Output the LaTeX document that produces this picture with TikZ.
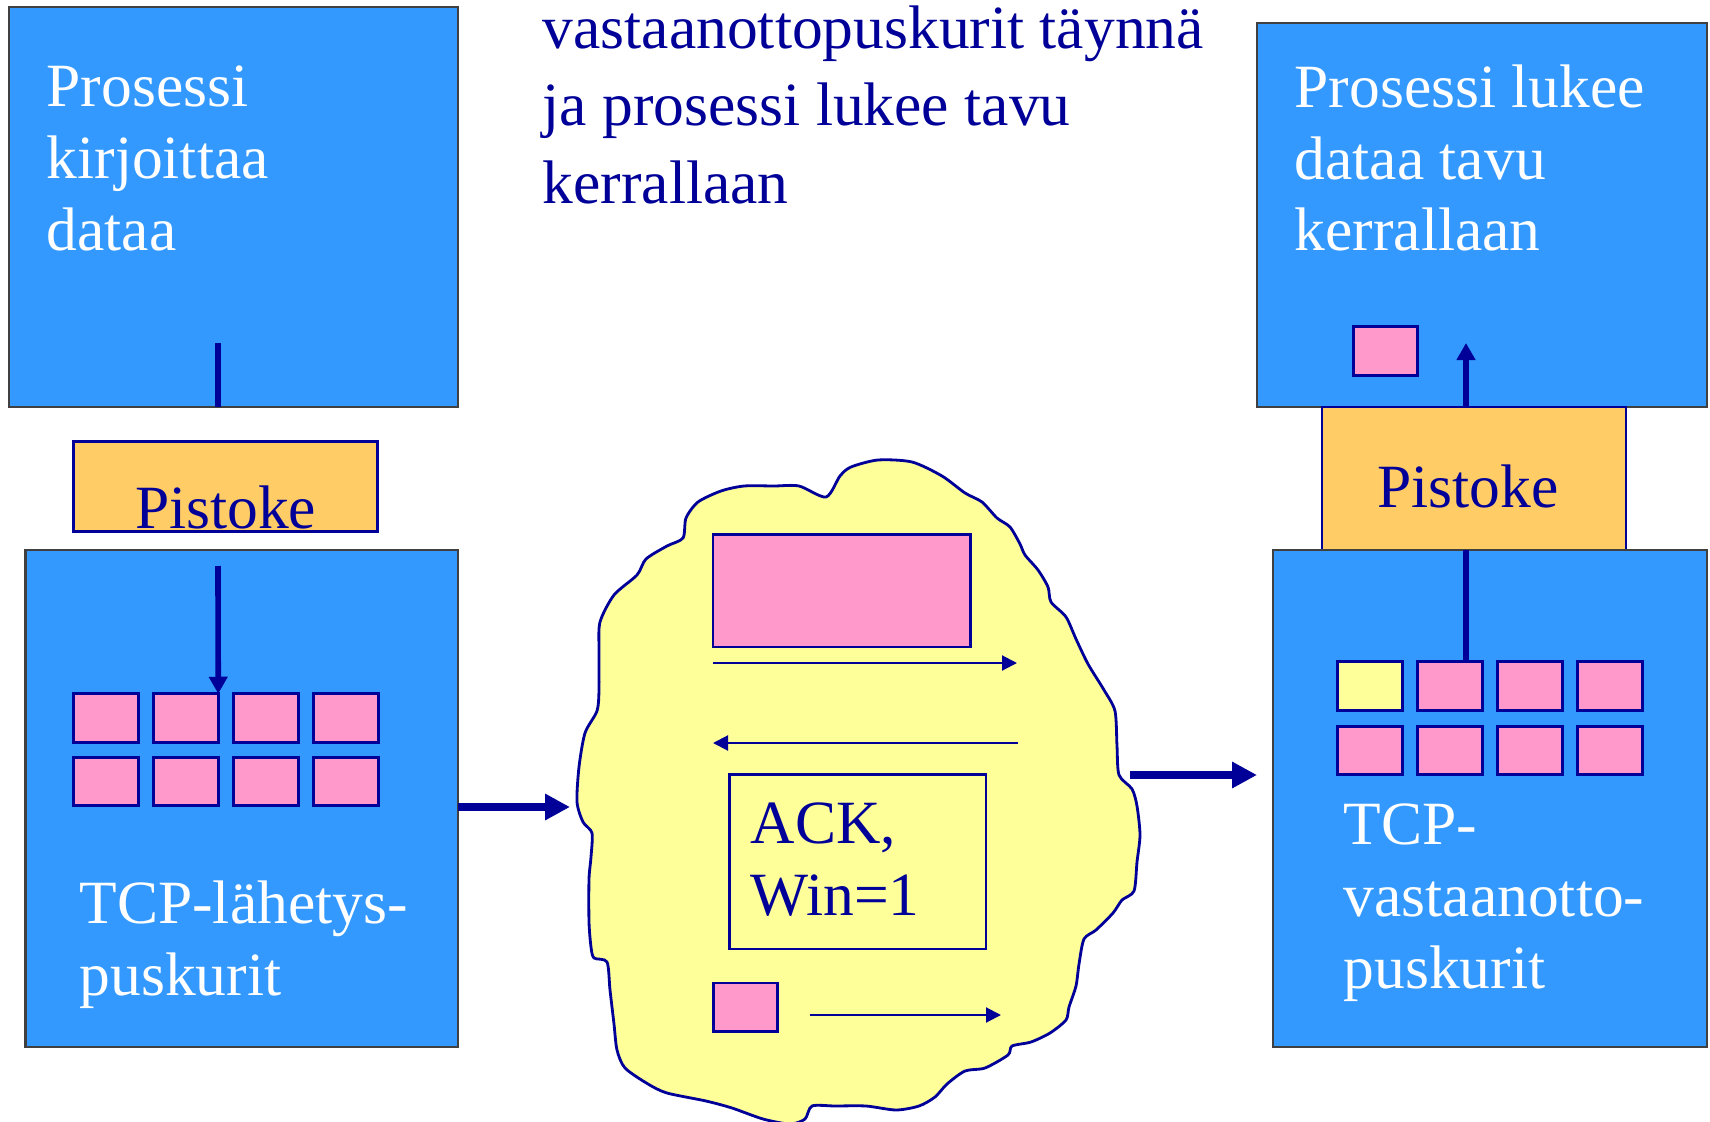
\documentclass[tikz,border=0pt]{standalone}
\usepackage{fontspec}
\setmainfont{Liberation Serif}
\usepackage{tikz}
\usetikzlibrary{arrows.meta}
\definecolor{boxblue}{HTML}{3399FF}
\definecolor{navy}{HTML}{000099}
\definecolor{pink}{HTML}{FF99CC}
\definecolor{sockorange}{HTML}{FFCC66}
\definecolor{netyellow}{HTML}{FFFF99}
\begin{document}
\begin{tikzpicture}[x=0.1mm,y=-0.1mm,
  box/.style={rectangle,draw=black!75,line width=0.8pt,fill=boxblue,inner sep=0pt,outer sep=0pt},
  sock/.style={rectangle,draw=navy,line width=0.8pt,fill=sockorange,inner sep=0pt,outer sep=0pt},
  sq/.style={rectangle,draw=navy,line width=0.8pt,fill=pink,inner sep=0pt,outer sep=0pt,minimum width=6.45mm,minimum height=4.85mm},
  txt/.style={inner sep=0pt,align=left,font=\fontsize{17.5}{20.4}\selectfont},
  thk/.style={draw=navy,line width=1.6pt},
  big/.style={draw=navy,line width=2pt,-{Triangle[length=2.5mm,width=2.5mm]}},
  thn/.style={draw=navy,line width=0.6pt,-{Triangle[length=1.5mm,width=1.5mm]}}]
\useasboundingbox (0,0) rectangle (1710,1122);

% cloud
\draw[navy,line width=0.8pt,fill=netyellow] plot[smooth cycle,tension=0.45] coordinates {
  (840,476) (851,467) (878,460) (912,462) (942,476) (965,493) (982,502) (997,518)
  (1010,527) (1020,544) (1025,555) (1038,570) (1048,587) (1051,602) (1066,617)
  (1076,639) (1088,664) (1104,690) (1115,711) (1117,746) (1119,775) (1132,789)
  (1137,806) (1140,835) (1137,862) (1134,891) (1122,900) (1113,913) (1096,930)
  (1084,939) (1079,964) (1076,986) (1069,1007) (1066,1020) (1050,1033) (1031,1042)
  (1012,1046) (1008,1055) (985,1068) (965,1071) (947,1084) (935,1097) (919,1106)
  (896,1110) (866,1106) (835,1106) (812,1106) (805,1119) (790,1124) (763,1119)
  (732,1108) (706,1101) (667,1093) (648,1084) (625,1068) (617,1050) (614,1024)
  (610,990) (607,962) (594,958) (591,947) (589,922) (589,879) (591,857) (592,833)
  (583,822) (577,802) (579,767) (585,733) (597,711) (599,690) (599,651) (600,622)
  (614,595) (637,575) (646,559) (667,546) (683,538) (686,518) (698,502) (721,491)
  (744,486) (774,486) (799,486) (826,497)};

% sender
\node[box,minimum width=44.9mm,minimum height=40mm] (pl) at (233.5,207) {};
\node[txt,white,anchor=base west] (tpl) at (46,250) {Prosessi\\kirjoittaa\\dataa};
\node[sock,minimum width=30.4mm,minimum height=9mm] (sl) at (225.6,486.5) {};
\node[txt,navy,anchor=base] (tsl) at ([yshift=0.35mm]sl.south) {Pistoke};
\node[box,minimum width=43.24mm,minimum height=49.7mm] (bl) at (241.8,798.5) {};
\node[sq] (bl1) at (106,718) {};
\node[sq] (bl2) at (186,718) {};
\node[sq] (bl3) at (266,718) {};
\node[sq] (bl4) at (346,718) {};
\node[sq] (bl5) at (106,781.5) {};
\node[sq] (bl6) at (186,781.5) {};
\node[sq] (bl7) at (266,781.5) {};
\node[sq] (bl8) at (346,781.5) {};
\node[txt,white,anchor=base west] (tbl) at (79,995) {TCP-lähetys-\\puskurit};

% network
\node[sq,minimum width=25.76mm,minimum height=11.26mm] (pk) at (841.8,590.7) {};
\node[sq,fill=netyellow,minimum width=25.65mm,minimum height=17.45mm] (ack) at (857.75,861.75) {};
\node[txt,navy,anchor=base west] (tack) at (750,915) {ACK,\\Win=1};
\node[sq] (pk2) at (745.5,1007.3) {};

% receiver
\node[box,minimum width=45mm,minimum height=38.4mm] (pr) at (1482,215) {};
\node[txt,white,anchor=base west] (tpr) at (1294,251) {Prosessi lukee\\dataa tavu\\kerrallaan};
\node[sq] (pk3) at (1385.5,351) {};
\node[sock,minimum width=30.4mm,minimum height=14.3mm] (sr) at (1474,478.5) {};
\node[txt,navy,anchor=base] (tsr) at ([xshift=-0.6mm,yshift=4.3mm]sr.south) {Pistoke};
\node[box,minimum width=43.4mm,minimum height=49.7mm] (br) at (1490,798.5) {};
\node[sq,fill=netyellow] (br1) at (1370,686) {};
\node[sq] (br2) at (1450,686) {};
\node[sq] (br3) at (1530,686) {};
\node[sq] (br4) at (1610,686) {};
\node[sq] (br5) at (1370,750.5) {};
\node[sq] (br6) at (1450,750.5) {};
\node[sq] (br7) at (1530,750.5) {};
\node[sq] (br8) at (1610,750.5) {};
\node[txt,white,anchor=base west] (tbr) at (1343,988) {TCP-\\vastaanotto-\\puskurit};

% title
\node[txt,navy,anchor=base west,font=\fontsize{17.5}{22}\selectfont] (top) at (542,203)
  {vastaanottopuskurit täynnä\\ja prosessi lukee tavu\\kerrallaan};

% connectors
\coordinate (wl) at (218,343);
\coordinate (wl2) at (218,566);
\coordinate (wr) at (1466,343);
\coordinate (nl) at (570,807);
\coordinate (nr) at (1130,775);
\coordinate (a1) at (1017,663);
\coordinate (a2) at (1018,743);
\coordinate (a3s) at (810,1015);
\coordinate (a3e) at (1001,1015);
\draw[thk] (wl) -- (wl |- pl.south);
\draw[thk,-{Triangle[length=1.7mm,width=1.8mm]}] (wl2) -- (bl2.north east);
\draw[big] (nl -| bl.east) -- (nl);
\draw[big] (nr) -- ([xshift=-1.6mm]nr -| br.west);
\draw[thk,-{Triangle[length=1.7mm,width=1.8mm]}] (wr |- sr.north) -- (wr);
\draw[thk] (wr |- sr.south) -- (wr |- br2.north);
\draw[thn] (a1 -| pk.west) -- (a1);
\draw[thn] (a2) -- (a2 -| pk.west);
\draw[thn] (a3s) -- (a3e);
\end{tikzpicture}
\end{document}
